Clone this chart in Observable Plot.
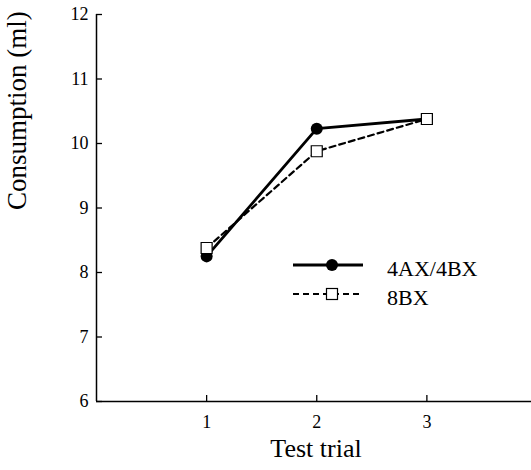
<!DOCTYPE html>
<html>
<head>
<meta charset="utf-8">
<script src="https://cdn.jsdelivr.net/npm/d3@7"></script>
<script src="https://cdn.jsdelivr.net/npm/@observablehq/plot@0.6"></script>
<style>
  body { margin: 0; background: #fff; }
  #chart { position: relative; width: 531px; height: 470px; overflow: hidden; }
  #legend { position: absolute; left: 0; top: 0; pointer-events: none; }
</style>
</head>
<body>
<div id="chart"></div>
<script>
const trials = [1, 2, 3];
const seriesNames = ["4AX/4BX", "8BX"];
const values4AX4BX = [8.25, 10.23, 10.38];
const values8BX = [8.38, 9.88, 10.38];
const xTicks = [1, 2, 3];
const yTicks = [6, 7, 8, 9, 10, 11, 12];
const xLabel = "Test trial";
const yLabel = "Consumption (ml)";

const dataA = trials.map((t, i) => ({trial: t, value: values4AX4BX[i], series: seriesNames[0]}));
const dataB = trials.map((t, i) => ({trial: t, value: values8BX[i], series: seriesNames[1]}));

const font = "'Liberation Serif', 'Times New Roman', serif";
const W = 531, H = 470, mL = 96, mR = 0, mT = 14, mB = 69;
const frameW = W - mL - mR, frameH = H - mT - mB;

const chart = Plot.plot({
  width: W,
  height: H,
  marginLeft: mL,
  marginRight: mR,
  marginTop: mT,
  marginBottom: mB,
  style: {fontFamily: font, background: "#fff", color: "#000"},
  x: {domain: [0, 3.95], ticks: xTicks},
  y: {domain: [6, 12], ticks: yTicks},
  marks: [
    Plot.axisX({ticks: xTicks, tickFormat: d3.format("d"), tickSize: 0, tickPadding: 14, fontSize: 18, fontFamily: font, label: null}),
    Plot.axisY({ticks: yTicks, tickFormat: d3.format("d"), tickSize: 0, tickPadding: 8, fontSize: 18, fontFamily: font, label: null}),
    Plot.tickX(xTicks, {x: d => d, insetTop: frameH - 6, stroke: "#000", strokeWidth: 1.3}),
    Plot.tickY(yTicks, {y: d => d, insetRight: frameW - 6, stroke: "#000", strokeWidth: 1.3}),
    Plot.ruleY([6], {stroke: "#000", strokeWidth: 1.5}),
    Plot.ruleX([0], {stroke: "#000", strokeWidth: 1.5}),
    Plot.line(dataA, {x: "trial", y: "value", stroke: "#000", strokeWidth: 2.8}),
    Plot.line(dataB, {x: "trial", y: "value", stroke: "#000", strokeWidth: 2.2, strokeDasharray: "6,4"}),
    Plot.dot(dataA, {x: "trial", y: "value", r: 6, fill: "#000", stroke: null}),
    Plot.dot(dataB, {x: "trial", y: "value", r: 6.2, symbol: "square", fill: "#fff", stroke: "#000", strokeWidth: 1.2}),
    Plot.text([xLabel], {frameAnchor: "bottom", dx: 2, dy: 55, fontSize: 26, fill: "#000"}),
    Plot.text([yLabel], {frameAnchor: "left", rotate: -90, dx: -79, dy: 2, fontSize: 27, fill: "#000"})
  ]
});
const host = document.getElementById("chart");
host.appendChild(chart);

// Legend (overlay)
const legend = d3.select(host).append("svg").attr("id", "legend")
  .attr("width", W).attr("height", H).attr("font-family", font);
const items = [
  {name: seriesNames[0], dash: null, width: 2.8, kind: "circle"},
  {name: seriesNames[1], dash: "6,4", width: 2.2, kind: "square"}
];
const lx0 = 293, lx1 = 363, lxm = 332, lxt = 387, ly = [265, 294];
items.forEach((it, i) => {
  const y = ly[i];
  const line = legend.append("line").attr("x1", lx0).attr("x2", lx1).attr("y1", y).attr("y2", y)
    .attr("stroke", "#000").attr("stroke-width", it.width);
  if (it.dash) line.attr("stroke-dasharray", it.dash);
  if (it.kind === "circle") {
    legend.append("circle").attr("cx", lxm).attr("cy", y).attr("r", 6).attr("fill", "#000");
  } else {
    legend.append("rect").attr("x", lxm - 5.5).attr("y", y - 5.5).attr("width", 11).attr("height", 11)
      .attr("fill", "#fff").attr("stroke", "#000").attr("stroke-width", 1.2);
  }
  legend.append("text").attr("x", lxt).attr("y", y + 11).attr("font-size", 22)
    .attr("text-anchor", "start").attr("fill", "#000").text(it.name);
});
</script>
</body>
</html>
